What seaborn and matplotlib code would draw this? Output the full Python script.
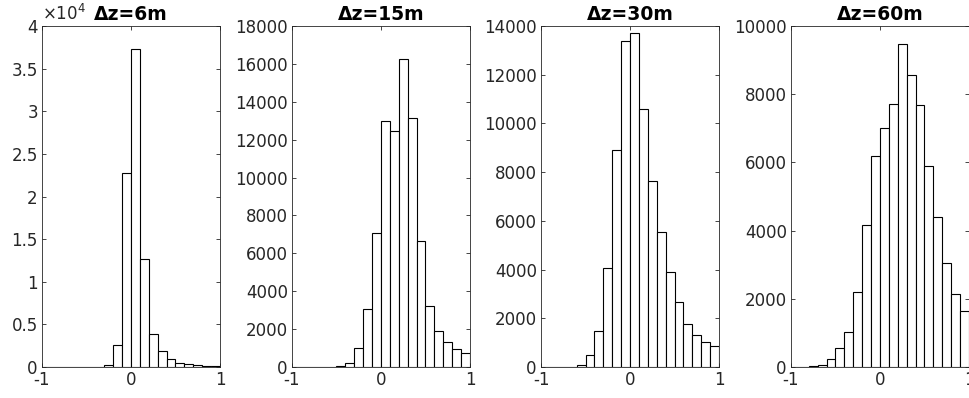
import numpy as np
import pandas as pd
import matplotlib
matplotlib.use("Agg")
import matplotlib.pyplot as plt
from matplotlib.ticker import FuncFormatter
import seaborn as sns

sns.set_theme(style="white")
plt.rcParams['font.family'] = ['DejaVu Sans']

# bin edges -1..1 step 0.1 (20 bins)
bin_edges = [round(-1 + 0.1 * i, 1) for i in range(21)]
bin_centers = [round(-0.95 + 0.1 * i, 2) for i in range(20)]

titles = ["\u0394z=6m", "\u0394z=15m", "\u0394z=30m", "\u0394z=60m"]

counts_6m = [0, 0, 0, 0, 0, 0, 0, 270, 2620, 22800,
             37260, 12720, 3900, 1840, 980, 510, 310, 230, 120, 120]
counts_15m = [0, 0, 0, 0, 0, 50, 230, 1020, 3060, 7060,
              13010, 12470, 16270, 13150, 6650, 3240, 1920, 1320, 970, 760]
counts_30m = [0, 0, 0, 0, 96, 508, 1470, 4050, 8920, 13380,
              13710, 10600, 7640, 5560, 3880, 2650, 1745, 1330, 1030, 865]
counts_60m = [0, 0, 30, 70, 245, 550, 1030, 2205, 4150, 6200,
              7010, 7715, 9480, 8560, 7690, 5900, 4410, 3040, 2130, 1630]

all_counts = [counts_6m, counts_15m, counts_30m, counts_60m]
ylims = [40000, 18000, 14000, 10000]
yticks = [
    [0, 5000, 10000, 15000, 20000, 25000, 30000, 35000, 40000],
    [0, 2000, 4000, 6000, 8000, 10000, 12000, 14000, 16000, 18000],
    [0, 2000, 4000, 6000, 8000, 10000, 12000, 14000],
    [0, 2000, 4000, 6000, 8000, 10000],
]
xticks = [-1, 0, 1]

W, H = 970, 398
fig = plt.figure(figsize=(W / 100, H / 100), dpi=100)

lefts = [42, 292, 541, 791]
ax_w = 178
top, bottom = 26, 367
axis_col = "#262626"

for i in range(4):
    ax = fig.add_axes([lefts[i] / W, 1 - bottom / H, ax_w / W, (bottom - top) / H])
    df = pd.DataFrame({"x": bin_centers, "w": all_counts[i]})
    sns.histplot(data=df, x="x", weights="w", bins=bin_edges, ax=ax,
                 stat="count", element="bars", fill=True,
                 facecolor="white", edgecolor="black", linewidth=0.8, alpha=1)
    ax.set_xlim(-1, 1)
    ax.set_ylim(0, ylims[i])
    ax.set_xticks(xticks)
    ax.set_xticklabels(["-1", "0", "1"])
    ax.set_yticks(yticks[i])
    if i == 0:
        ax.yaxis.set_major_formatter(FuncFormatter(lambda v, p: "%g" % (v / 1e4)))
    else:
        ax.yaxis.set_major_formatter(FuncFormatter(lambda v, p: "%d" % v))
    ax.set_xlabel("")
    ax.set_ylabel("")
    ax.set_title(titles[i], fontsize=13.5, fontweight="bold", color="black", pad=4)
    ax.tick_params(axis="both", which="both", direction="in", length=3, width=0.6,
                   colors=axis_col, labelsize=12, top=True, right=True,
                   bottom=True, left=True, pad=3)
    for s in ax.spines.values():
        s.set_color(axis_col)
        s.set_linewidth(0.6)
        s.set_visible(True)
    ax.grid(False)
    if i == 0:
        ax.text(0.0, 1.005, r"$\times10^{4}$", transform=ax.transAxes,
                fontsize=12, color=axis_col, ha="left", va="bottom")

fig.savefig("out.png", dpi=100)
